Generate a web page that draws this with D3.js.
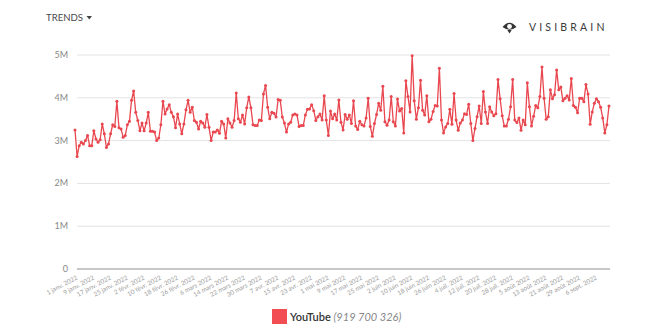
<!DOCTYPE html>
<html>
<head>
<meta charset="utf-8">
<script src="https://cdn.jsdelivr.net/npm/d3@7"></script>
<style>
  html, body { margin: 0; padding: 0; background: #fff; }
  svg { display: block; font-family: Lato, "Open Sans", sans-serif; }
</style>
</head>
<body>
<svg id="chart" width="664" height="332"></svg>
<script>
// ---- data ----
const startDate = "2022-01-01";
const seriesName = "YouTube";
const seriesTotal = "(919 700 326)";
// daily mentions (millions), 1 Jan 2022 onward
const values = [
  3.25, 2.63, 2.88, 2.96, 2.92, 3.00, 3.12, 2.88, 2.88, 3.23,
  3.04, 2.96, 3.02, 3.39, 3.16, 2.84, 2.92, 3.16, 3.37, 3.33,
  3.92, 3.30, 3.27, 3.08, 3.12, 3.37, 3.45, 3.94, 4.16, 3.66,
  3.47, 3.23, 3.41, 3.23, 3.41, 3.66, 3.22, 3.22, 3.20, 3.00,
  3.06, 3.37, 3.92, 3.62, 3.74, 3.84, 3.66, 3.56, 3.30, 3.62,
  3.39, 3.16, 3.39, 3.72, 3.94, 3.66, 3.78, 3.47, 3.43, 3.27,
  3.45, 3.41, 3.31, 3.61, 3.31, 3.00, 3.20, 3.20, 3.25, 3.17,
  3.45, 3.39, 3.06, 3.51, 3.41, 3.31, 3.47, 4.11, 3.51, 3.43,
  3.60, 3.39, 3.77, 4.02, 3.77, 3.37, 3.35, 3.35, 3.48, 3.47,
  4.09, 4.29, 3.78, 3.51, 3.66, 3.64, 3.55, 3.96, 3.94, 3.55,
  3.41, 3.20, 3.39, 3.43, 3.60, 3.62, 3.60, 3.33, 3.35, 3.35,
  3.60, 3.73, 3.74, 3.84, 3.70, 3.47, 3.56, 3.62, 3.48, 4.05,
  3.48, 3.12, 3.69, 3.51, 3.62, 3.48, 3.95, 3.43, 3.25, 3.61,
  3.50, 3.60, 3.40, 3.93, 3.34, 3.26, 3.45, 3.37, 3.34, 3.53,
  3.99, 3.33, 3.10, 3.40, 3.61, 3.87, 3.71, 4.27, 3.44, 3.36,
  3.48, 4.03, 3.44, 3.34, 3.97, 3.69, 3.75, 3.18, 4.40, 4.03,
  3.67, 4.98, 3.93, 3.50, 3.77, 4.41, 3.71, 3.60, 4.05, 3.44,
  3.50, 3.68, 3.82, 3.81, 4.69, 3.48, 3.18, 3.32, 3.40, 3.73,
  3.38, 4.10, 3.48, 3.24, 3.41, 3.48, 3.63, 3.61, 3.85, 3.40,
  3.00, 3.28, 3.56, 3.81, 3.40, 4.15, 3.67, 3.40, 3.79, 3.67,
  3.58, 3.63, 4.43, 3.98, 3.58, 3.34, 3.34, 3.50, 3.79, 4.43,
  3.48, 3.42, 3.53, 3.24, 3.48, 3.37, 4.35, 3.79, 3.34, 3.57,
  3.82, 3.77, 4.03, 4.72, 3.99, 3.50, 3.56, 4.19, 3.98, 4.07,
  4.65, 4.19, 4.25, 3.93, 3.99, 4.05, 3.95, 4.45, 3.82, 3.78,
  3.65, 3.99, 3.99, 3.91, 4.31, 4.09, 3.38, 3.67, 3.87, 3.98,
  3.91, 3.78, 3.53, 3.18, 3.37, 3.81
];
const yTicks = [0, 1e6, 2e6, 3e6, 4e6, 5e6];
const yTickLabels = ["0", "1M", "2M", "3M", "4M", "5M"];
const xTickLabels = [
  "1 janv. 2022", "9 janv. 2022", "17 janv. 2022", "25 janv. 2022",
  "2 févr. 2022", "10 févr. 2022", "18 févr. 2022", "26 févr. 2022",
  "6 mars 2022", "14 mars 2022", "22 mars 2022", "30 mars 2022",
  "7 avr. 2022", "15 avr. 2022", "23 avr. 2022", "1 mai 2022",
  "9 mai 2022", "17 mai 2022", "25 mai 2022", "2 juin 2022",
  "10 juin 2022", "18 juin 2022", "26 juin 2022", "4 juil. 2022",
  "12 juil. 2022", "20 juil. 2022", "28 juil. 2022", "5 août 2022",
  "13 août 2022", "21 août 2022", "29 août 2022", "6 sept. 2022"
];

// ---- build ----
const parse = d3.timeParse("%Y-%m-%d");
const t0 = parse(startDate);
const data = values.map((v, i) => ({ date: d3.timeDay.offset(t0, i), value: v * 1e6 }));
const tickDates = xTickLabels.map((_, i) => d3.timeDay.offset(t0, i * 8));

const svg = d3.select("#chart");
const x = d3.scaleTime()
  .domain([data[0].date, data[data.length - 1].date])
  .range([75, 609]);
const y = d3.scaleLinear().domain([0, 5e6]).range([269, 55]);

const color = "#e9474f";

// header
svg.append("text").attr("x", 46).attr("y", 21)
  .attr("font-size", 9.6).attr("fill", "#4a4a4a")
  .text("TRENDS");
svg.append("path").attr("d", "M86.5,16 L92,16 L89.25,19.5 Z").attr("fill", "#444");

// logo
const logo = svg.append("g");
logo.append("path")
  .attr("d", "M502.5,27 Q509.5,18.5 516.5,27 Q509.5,32.5 502.5,27 Z")
  .attr("fill", "#333");
logo.append("circle").attr("cx", 509.5).attr("cy", 26.5).attr("r", 2.4).attr("fill", "#fff");
logo.append("path").attr("d", "M507.3,30 L511.7,30 L509.5,33.5 Z").attr("fill", "#333");
logo.append("text").attr("x", 529).attr("y", 31)
  .attr("font-size", 10.5).attr("fill", "#3a3a3a")
  .attr("letter-spacing", 2.6)
  .attr("textLength", 78).attr("lengthAdjust", "spacing")
  .text("VISIBRAIN");

// grid
svg.append("g").selectAll("line")
  .data(yTicks.slice(1))
  .join("line")
  .attr("x1", 77).attr("x2", 610)
  .attr("y1", d => y(d)).attr("y2", d => y(d))
  .attr("stroke", "#e3e3e3").attr("stroke-width", 1);

svg.append("line")
  .attr("x1", 77).attr("x2", 610)
  .attr("y1", y(0)).attr("y2", y(0))
  .attr("stroke", "#b5b5b5").attr("stroke-width", 1.5);

// y labels
svg.append("g").selectAll("text")
  .data(yTicks)
  .join("text")
  .attr("x", 68).attr("y", d => y(d) + 3)
  .attr("text-anchor", "end")
  .attr("font-size", 9).attr("fill", "#888")
  .text((d, i) => yTickLabels[i]);

// x labels
svg.append("g").selectAll("text")
  .data(tickDates)
  .join("text")
  .attr("transform", d => `translate(${x(d) + 3},${279}) rotate(-28)`)
  .attr("text-anchor", "end")
  .attr("font-size", 6.3).attr("fill", "#9a9a9a")
  .text((d, i) => xTickLabels[i]);

// line
const line = d3.line().x(d => x(d.date)).y(d => y(d.value));
svg.append("path").datum(data)
  .attr("d", line)
  .attr("fill", "none")
  .attr("stroke", color)
  .attr("stroke-width", 1.3)
  .attr("stroke-linejoin", "round");

svg.append("g").selectAll("circle")
  .data(data)
  .join("circle")
  .attr("cx", d => x(d.date)).attr("cy", d => y(d.value))
  .attr("r", 1.5).attr("fill", color);

// legend
svg.append("rect").attr("x", 272).attr("y", 309).attr("width", 15).attr("height", 15)
  .attr("fill", "#f24d52");
const lt = svg.append("text").attr("x", 290).attr("y", 320.5).attr("font-size", 11);
lt.append("tspan").attr("fill", "#333").attr("font-weight", 600).text(seriesName + " ");
lt.append("tspan").attr("fill", "#888").attr("font-style", "italic").text(seriesTotal);
</script>
</body>
</html>
